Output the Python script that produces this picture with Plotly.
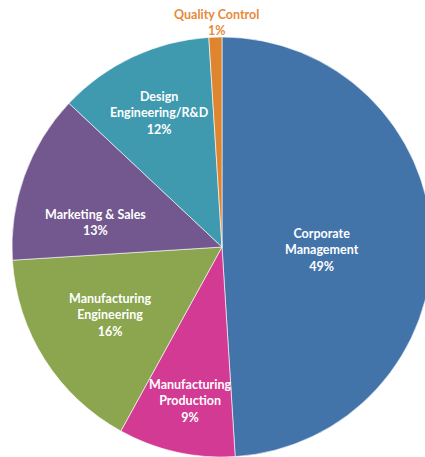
import plotly.graph_objects as go

# Share of staff by function
labels = ["Corporate Management", "Manufacturing Production", "Manufacturing Engineering",
          "Marketing & Sales", "Design Engineering/R&D", "Quality Control"]
wrapped = ["Corporate<br>Management", "Manufacturing<br>Production", "Manufacturing<br>Engineering",
           "Marketing & Sales", "Design<br>Engineering/R&D", "Quality Control"]
values = [49, 9, 16, 13, 12, 1]
colors = ["#4273A9", "#D33A93", "#8BA64E", "#72588E", "#3F9AB0", "#E0852F"]
text_colors = ["white", "white", "white", "white", "white", "#E8893A"]

# Label placement (pixel centres of each text block)
label_px = [(322, 250), (190, 401), (110, 315), (95, 222), (159, 113), (217, 22)]

W, H = 432, 457
CX, CY, R = 222, 247, 210

fig = go.Figure(go.Pie(
    labels=labels,
    values=values,
    textinfo="none",
    marker=dict(colors=colors, line=dict(color="white", width=0.6)),
    sort=False,
    direction="clockwise",
    rotation=0,
    showlegend=False,
    hoverinfo="label+percent",
    domain=dict(x=[(CX - R) / W, (CX + R) / W], y=[(H - CY - R) / H, (H - CY + R) / H]),
))

total = sum(values)
for name, val, col, (px, py) in zip(wrapped, values, text_colors, label_px):
    fig.add_annotation(
        x=px / W, y=1 - py / H, xref="paper", yref="paper",
        xanchor="center", yanchor="middle",
        text=f"<b>{name}<br>{round(100 * val / total)}%</b>",
        showarrow=False,
        font=dict(family="Lato", size=12.5, color=col),
        align="center",
    )

fig.update_layout(
    width=W,
    height=H,
    margin=dict(l=0, r=0, t=0, b=0),
    paper_bgcolor="white",
    plot_bgcolor="white",
)

fig.write_html(
    "out.html",
    post_script="document.documentElement.style.overflow='hidden';document.body.style.overflow='hidden';",
)
